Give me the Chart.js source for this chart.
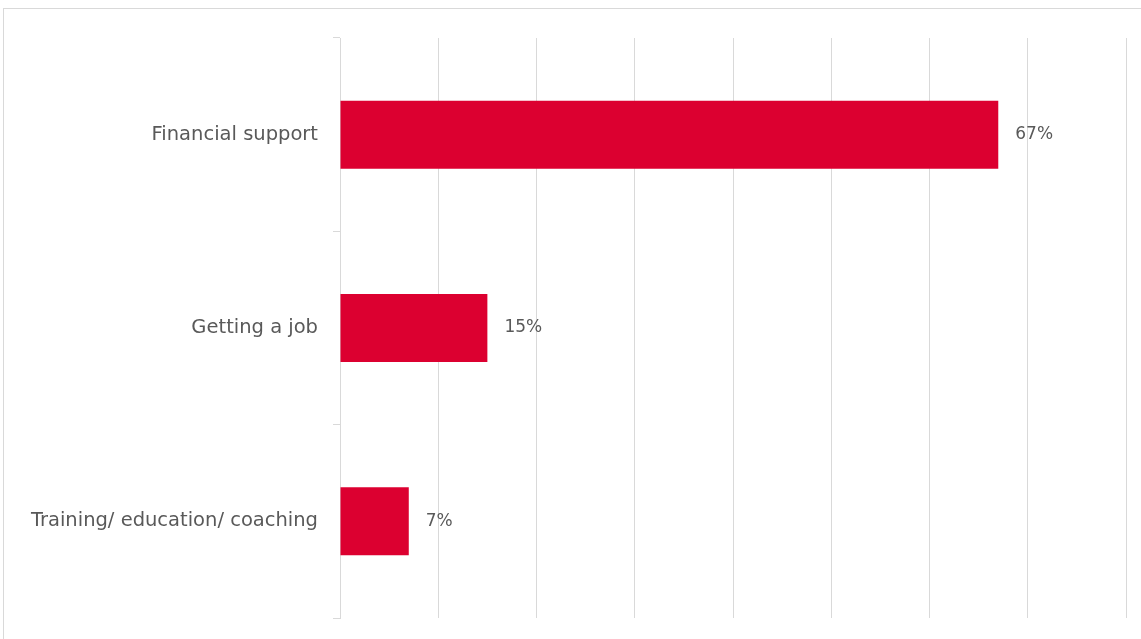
<!DOCTYPE html>
<html>
<head>
<meta charset="utf-8">
<script src="https://cdn.jsdelivr.net/npm/chart.js@4"></script>
<style>
  html, body { margin: 0; padding: 0; background: #fff; overflow: hidden; }
  #wrap { position: relative; width: 1141px; height: 639px; }
  #frame { position: absolute; left: 3px; top: 8px; width: 1200px; height: 700px;
           border: 1px solid #d9d9d9; box-sizing: border-box; }
  canvas { position: absolute; left: 0; top: 0; }
</style>
</head>
<body>
<div id="wrap">
  <div id="frame"></div>
  <canvas id="chart" width="1141" height="639"></canvas>
</div>
<script>
// Chart data
var categories = ['Financial support', 'Getting a job', 'Training/ education/ coaching'];
var shares = [67, 15, 7];
var barColor = '#DC0030';
var textColor = '#595959';
var labelFont = { family: "'DejaVu Sans', sans-serif", size: 19.5 };
var valueFont = { family: "'DejaVu Sans', sans-serif", size: 17 };

// Write the percentage just past the end of each bar.
var valueLabels = {
  id: 'valueLabels',
  afterDatasetsDraw: function(chart) {
    var ctx = chart.ctx;
    var meta = chart.getDatasetMeta(0);
    ctx.save();
    ctx.font = valueFont.size + 'px ' + valueFont.family;
    ctx.fillStyle = textColor;
    ctx.textAlign = 'left';
    ctx.textBaseline = 'middle';
    meta.data.forEach(function(bar, i) {
      ctx.fillText(shares[i] + '%', bar.x + 17, bar.y);
    });
    ctx.restore();
  }
};

new Chart(document.getElementById('chart'), {
  type: 'bar',
  data: {
    labels: categories,
    datasets: [{
      data: shares,
      backgroundColor: barColor,
      barPercentage: 0.352,
      categoryPercentage: 1
    }]
  },
  options: {
    indexAxis: 'y',
    responsive: false,
    animation: false,
    layout: { padding: { left: 0, right: 15, top: 38, bottom: 21 } },
    plugins: { legend: { display: false }, tooltip: { enabled: false } },
    scales: {
      x: {
        min: 0,
        max: 80,
        ticks: { display: false, stepSize: 10 },
        grid: { color: '#d9d9d9', lineWidth: 1, drawTicks: false },
        border: { display: false },
        afterFit: function(scale) { scale.height = 0; }
      },
      y: {
        ticks: { color: textColor, font: labelFont, padding: 15 },
        grid: { drawOnChartArea: false, color: '#d9d9d9', tickLength: 7, offset: true },
        border: { display: true, color: '#d9d9d9' },
        afterFit: function(scale) {
          scale.width = 340;
          scale.paddingTop = 0;
          scale.paddingBottom = 0;
        }
      }
    }
  },
  plugins: [valueLabels]
});
</script>
</body>
</html>
